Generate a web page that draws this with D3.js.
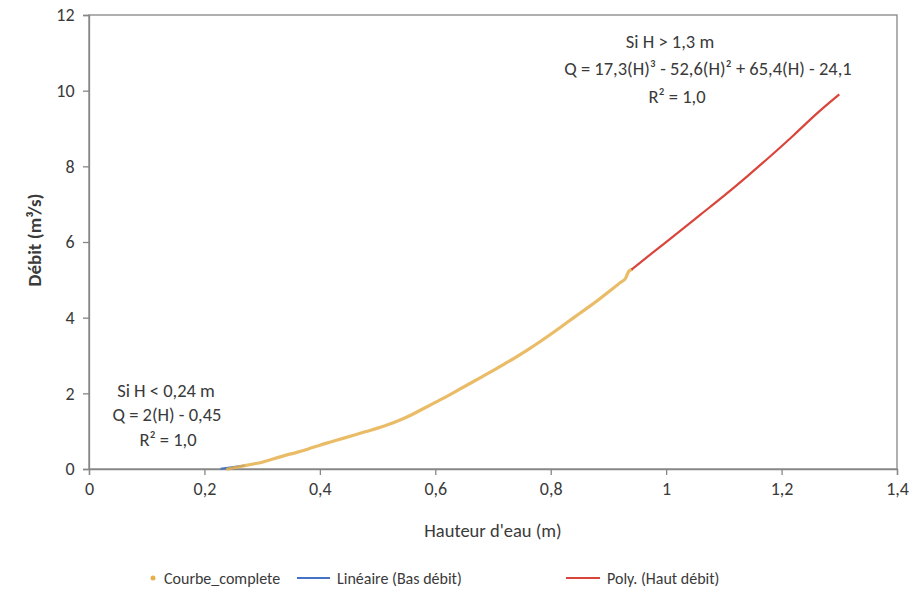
<!DOCTYPE html>
<html><head><meta charset="utf-8">
<script src="https://cdn.jsdelivr.net/npm/d3@7"></script>
<style>body{margin:0;background:#fff}svg{display:block}text{font-family:Carlito,Lato,"Open Sans",sans-serif;fill:#3a3a3a}</style>
</head><body><svg id="c" width="912" height="594"></svg>
<script>
// Data
const xTicks = [0, 0.2, 0.4, 0.6, 0.8, 1, 1.2, 1.4];
const xTickLabels = ["0", "0,2", "0,4", "0,6", "0,8", "1", "1,2", "1,4"];
const yTicks = [0, 2, 4, 6, 8, 10, 12];
const completeH = [0.24,0.26,0.28,0.30,0.32,0.34,0.36,0.38,0.40,0.42,0.44,0.46,0.48,0.50,0.52,0.54,0.56,0.58,0.60,0.62,0.64,0.66,0.68,0.70,0.72,0.74,0.76,0.78,0.80,0.82,0.84,0.86,0.88,0.90,0.92,0.93,0.935,0.94];
const completeQ = [0.00,0.06,0.12,0.18,0.27,0.36,0.44,0.53,0.63,0.72,0.81,0.90,0.99,1.08,1.18,1.30,1.44,1.60,1.76,1.92,2.09,2.26,2.43,2.60,2.78,2.96,3.15,3.35,3.56,3.78,4.00,4.22,4.44,4.68,4.92,5.05,5.22,5.27];
const linH = [0.228, 0.27];
const linQ = [0.006, 0.09];
const polyH = [0.94,0.98,1.02,1.06,1.10,1.14,1.18,1.22,1.26,1.30];
const polyQ = [5.27,5.76,6.24,6.73,7.22,7.73,8.26,8.81,9.38,9.90];
const legendLabels = ["Courbe_complete", "Linéaire (Bas débit)", "Poly. (Haut débit)"];
const colors = {complete:"#E6B04C", lin:"#4472C4", poly:"#D9453B", axis:"#868686"};

const svg = d3.select("#c");
const m = {l:89, r:897, t:15, b:469};
const x = d3.scaleLinear().domain([0,1.4]).range([m.l, m.r]);
const y = d3.scaleLinear().domain([0,12]).range([m.b, m.t]);

// plot border
svg.append("rect").attr("x",m.l).attr("y",m.t).attr("width",m.r-m.l).attr("height",m.b-m.t)
  .attr("fill","none").attr("stroke",colors.axis).attr("stroke-width",1.3);

const xa = svg.append("g").attr("transform",`translate(0,${m.b})`)
  .call(d3.axisBottom(x).tickValues(xTicks).tickSize(6).tickFormat((d,i)=>xTickLabels[i]));
const ya = svg.append("g").attr("transform",`translate(${m.l},0)`)
  .call(d3.axisLeft(y).tickValues(yTicks).tickSize(6));
[xa,ya].forEach(a=>{
  a.selectAll("path,line").attr("stroke",colors.axis).attr("stroke-width",1.3);
  a.selectAll("text").style("font-size","18px").attr("fill","#3a3a3a");
});
xa.selectAll("text").attr("dy","0.95em");
ya.selectAll("text").attr("dx","-0.3em");

const line = d3.line().x(d=>x(d[0])).y(d=>y(d[1])).curve(d3.curveMonotoneX);
svg.append("path").datum(d3.zip(linH,linQ)).attr("d",line)
  .attr("fill","none").attr("stroke",colors.lin).attr("stroke-width",2);
svg.append("path").datum(d3.zip(completeH,completeQ)).attr("d",line)
  .attr("fill","none").attr("stroke",colors.complete).attr("stroke-width",3.2).attr("opacity",0.85)
  .attr("stroke-linejoin","round").attr("stroke-linecap","round");
svg.append("path").datum(d3.zip(polyH,polyQ)).attr("d",line)
  .attr("fill","none").attr("stroke",colors.poly).attr("stroke-width",2.2);

// annotations
function block(xs, ys, lines){
  lines.forEach((t,i)=>svg.append("text").attr("x",xs[i]).attr("y",ys[i]).attr("text-anchor","middle")
    .attr("dominant-baseline","central").style("font-size","18.5px").text(t));
}
block([670,708,677],[41,68,96],["Si H > 1,3 m","Q = 17,3(H)³ - 52,6(H)² + 65,4(H) - 24,1","R² = 1,0"]);
block([166,167,168],[390,414,439],["Si H < 0,24 m","Q = 2(H) - 0,45","R² = 1,0"]);

// axis titles
svg.append("text").attr("x",493).attr("y",530).attr("text-anchor","middle").attr("dominant-baseline","central")
  .style("font-size","18.5px").text("Hauteur d'eau (m)");
svg.append("text").attr("transform","translate(34,240) rotate(-90)").attr("text-anchor","middle")
  .attr("dominant-baseline","central").style("font-size","19px").style("font-weight","bold")
  .text("Débit (m³/s)");

// legend
const lg = svg.append("g");
lg.append("circle").attr("cx",153).attr("cy",578).attr("r",2.5).attr("fill",colors.complete);
lg.append("text").attr("x",164).attr("y",578).attr("dominant-baseline","central").style("font-size","16px").text(legendLabels[0]);
lg.append("line").attr("x1",297).attr("x2",330).attr("y1",578).attr("y2",578).attr("stroke",colors.lin).attr("stroke-width",2);
lg.append("text").attr("x",337).attr("y",578).attr("dominant-baseline","central").style("font-size","16px").text(legendLabels[1]);
lg.append("line").attr("x1",566).attr("x2",600).attr("y1",578).attr("y2",578).attr("stroke",colors.poly).attr("stroke-width",2);
lg.append("text").attr("x",607).attr("y",578).attr("dominant-baseline","central").style("font-size","16px").text(legendLabels[2]);
</script></body></html>
